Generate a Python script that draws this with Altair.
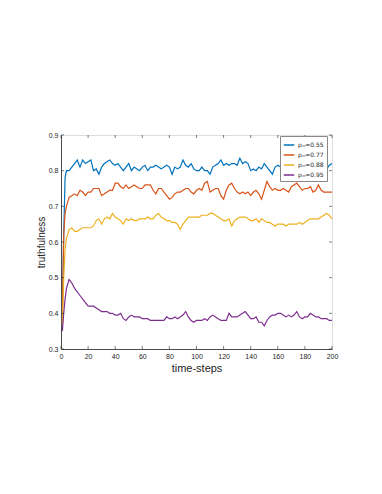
import altair as alt
import pandas as pd

steps = [1, 2, 3, 4, 6, 8] + list(range(10, 201, 2))

blue = [0.40, 0.62, 0.78, 0.80, 0.80, 0.81,
        0.82, 0.83, 0.81, 0.83, 0.82, 0.825, 0.83, 0.80, 0.805, 0.79,
        0.81, 0.82, 0.825, 0.83, 0.82, 0.815, 0.82, 0.81, 0.80, 0.81,
        0.82, 0.80, 0.81, 0.805, 0.80, 0.81, 0.815, 0.80, 0.81, 0.81,
        0.815, 0.81, 0.805, 0.81, 0.815, 0.81, 0.79, 0.81, 0.805, 0.81,
        0.83, 0.815, 0.81, 0.82, 0.805, 0.80, 0.80, 0.81, 0.80, 0.80,
        0.79, 0.81, 0.815, 0.82, 0.83, 0.815, 0.82, 0.815, 0.82, 0.82,
        0.815, 0.835, 0.82, 0.825, 0.82, 0.80, 0.805, 0.80, 0.81, 0.805,
        0.82, 0.81, 0.80, 0.79, 0.81, 0.815, 0.81, 0.805, 0.81, 0.815,
        0.81, 0.805, 0.81, 0.815, 0.81, 0.80, 0.81, 0.815, 0.81, 0.805,
        0.81, 0.815, 0.81, 0.805, 0.815, 0.82]

orange = [0.40, 0.62, 0.68, 0.70, 0.725, 0.73,
          0.735, 0.73, 0.745, 0.74, 0.73, 0.74, 0.74, 0.75, 0.75, 0.75,
          0.73, 0.735, 0.74, 0.745, 0.745, 0.765, 0.765, 0.755, 0.75, 0.76,
          0.75, 0.755, 0.76, 0.755, 0.75, 0.75, 0.76, 0.76, 0.76, 0.745,
          0.735, 0.75, 0.75, 0.74, 0.73, 0.72, 0.725, 0.735, 0.74, 0.74,
          0.745, 0.75, 0.75, 0.74, 0.735, 0.745, 0.75, 0.745, 0.765, 0.77,
          0.74, 0.745, 0.75, 0.75, 0.73, 0.72, 0.745, 0.76, 0.765, 0.75,
          0.74, 0.735, 0.74, 0.735, 0.74, 0.73, 0.74, 0.745, 0.735, 0.72,
          0.745, 0.77, 0.755, 0.745, 0.75, 0.745, 0.745, 0.75, 0.745, 0.74,
          0.755, 0.76, 0.765, 0.755, 0.745, 0.75, 0.75, 0.755, 0.74, 0.745,
          0.76, 0.745, 0.74, 0.74, 0.74, 0.74]

yellow = [0.37, 0.50, 0.58, 0.61, 0.635, 0.64,
          0.63, 0.63, 0.635, 0.64, 0.64, 0.64, 0.64, 0.645, 0.66, 0.665,
          0.65, 0.665, 0.67, 0.665, 0.68, 0.67, 0.665, 0.66, 0.65, 0.665,
          0.66, 0.665, 0.66, 0.66, 0.665, 0.665, 0.665, 0.67, 0.665, 0.665,
          0.675, 0.68, 0.67, 0.665, 0.66, 0.66, 0.655, 0.655, 0.65, 0.635,
          0.65, 0.66, 0.67, 0.67, 0.67, 0.67, 0.67, 0.675, 0.675, 0.675,
          0.68, 0.68, 0.675, 0.67, 0.665, 0.66, 0.66, 0.665, 0.645, 0.66,
          0.665, 0.67, 0.67, 0.67, 0.665, 0.66, 0.66, 0.665, 0.655, 0.665,
          0.66, 0.655, 0.655, 0.65, 0.645, 0.65, 0.65, 0.65, 0.645, 0.65,
          0.65, 0.65, 0.65, 0.655, 0.65, 0.655, 0.66, 0.665, 0.665, 0.665,
          0.665, 0.67, 0.675, 0.68, 0.675, 0.665]

purple = [0.35, 0.40, 0.44, 0.47, 0.495, 0.485,
          0.47, 0.46, 0.45, 0.44, 0.43, 0.42, 0.42, 0.42, 0.415, 0.41,
          0.405, 0.405, 0.405, 0.40, 0.40, 0.395, 0.395, 0.40, 0.385, 0.38,
          0.39, 0.395, 0.39, 0.39, 0.39, 0.385, 0.385, 0.385, 0.38, 0.38,
          0.38, 0.38, 0.38, 0.38, 0.39, 0.385, 0.385, 0.39, 0.385, 0.39,
          0.395, 0.405, 0.39, 0.38, 0.375, 0.38, 0.38, 0.38, 0.385, 0.38,
          0.39, 0.395, 0.39, 0.385, 0.38, 0.38, 0.38, 0.40, 0.39, 0.39,
          0.39, 0.395, 0.40, 0.405, 0.395, 0.385, 0.385, 0.39, 0.375, 0.375,
          0.365, 0.38, 0.39, 0.395, 0.395, 0.40, 0.40, 0.395, 0.39, 0.395,
          0.39, 0.395, 0.405, 0.39, 0.385, 0.39, 0.39, 0.40, 0.395, 0.39,
          0.39, 0.385, 0.385, 0.385, 0.38, 0.38]

series_names = ["ρᵢₙ=0.55", "ρᵢₙ=0.77", "ρᵢₙ=0.88", "ρᵢₙ=0.95"]
series_values = [blue, orange, yellow, purple]
colors = ["#0072BD", "#D95319", "#EDB120", "#7E2F8E"]

x_ticks = [0, 20, 40, 60, 80, 100, 120, 140, 160, 180, 200]
y_ticks = [0.3, 0.4, 0.5, 0.6, 0.7, 0.8, 0.9]

rows = []
for name, vals in zip(series_names, series_values):
    for t, v in zip(steps, vals):
        rows.append({"t": t, "v": v, "series": name})
df = pd.DataFrame(rows)

W, H = 271, 214
axis_color = "#262626"

xscale = alt.Scale(domain=[0, 200], nice=False, zero=False)
yscale = alt.Scale(domain=[0.3, 0.9], nice=False, zero=False)

x_axis = alt.Axis(values=x_ticks, title="time-steps", grid=False, ticks=False,
                  labelOverlap=False, labelFlush=False,
                  labelFontSize=7, labelColor=axis_color, labelPadding=3,
                  titleFontSize=11, titleFontWeight="normal", titleColor=axis_color,
                  titlePadding=3, domainColor=axis_color, domainWidth=0.8,
                  labelFont="Liberation Sans", titleFont="Liberation Sans")
y_axis = alt.Axis(values=y_ticks, format=".1f", title="truthfulness", grid=False,
                  ticks=False, labelOverlap=False, labelFlush=False,
                  labelFontSize=7, labelColor=axis_color, labelPadding=3,
                  titleFontSize=10, titleFontWeight="normal", titleColor=axis_color,
                  titlePadding=2, domainColor=axis_color, domainWidth=0.8,
                  labelFont="Liberation Sans", titleFont="Liberation Sans")

lines = alt.Chart(df).mark_line(strokeWidth=1.2, clip=True).encode(
    x=alt.X("t:Q", scale=xscale, axis=x_axis),
    y=alt.Y("v:Q", scale=yscale, axis=y_axis),
    color=alt.Color("series:N",
                    scale=alt.Scale(domain=series_names, range=colors),
                    legend=alt.Legend(title=None, orient="none", legendX=219, legendY=1,
                                      fillColor="white", strokeColor="#888888",
                                      padding=3, symbolType="stroke", symbolSize=110,
                                      symbolStrokeWidth=1.5, labelFontSize=6,
                                      labelFont="DejaVu Sans", labelColor=axis_color,
                                      rowPadding=1, labelOffset=3)),
)

xt = pd.DataFrame({"t": x_ticks})
yt = pd.DataFrame({"v": y_ticks})
tick_style = dict(color=axis_color, strokeWidth=0.6)

bottom_ticks = alt.Chart(xt).mark_rule(**tick_style).encode(
    x=alt.X("t:Q", scale=xscale, axis=x_axis), y=alt.value(H), y2=alt.value(H - 3))
top_ticks = alt.Chart(xt).mark_rule(**tick_style).encode(
    x=alt.X("t:Q", scale=xscale, axis=x_axis), y=alt.value(0), y2=alt.value(3))
left_ticks = alt.Chart(yt).mark_rule(**tick_style).encode(
    y=alt.Y("v:Q", scale=yscale, axis=y_axis), x=alt.value(0), x2=alt.value(3))
right_ticks = alt.Chart(yt).mark_rule(**tick_style).encode(
    y=alt.Y("v:Q", scale=yscale, axis=y_axis), x=alt.value(W), x2=alt.value(W - 3))

chart = alt.layer(lines, bottom_ticks, top_ticks, left_ticks, right_ticks).properties(
    width=W, height=H,
    padding={"left": 53, "top": 127, "right": 42, "bottom": 120},
    autosize=alt.AutoSizeParams(type="none"),
).configure_view(stroke=axis_color, strokeWidth=0.8).configure(background="white")

chart.save("out.html", embed_options={"renderer": "svg", "actions": False})
